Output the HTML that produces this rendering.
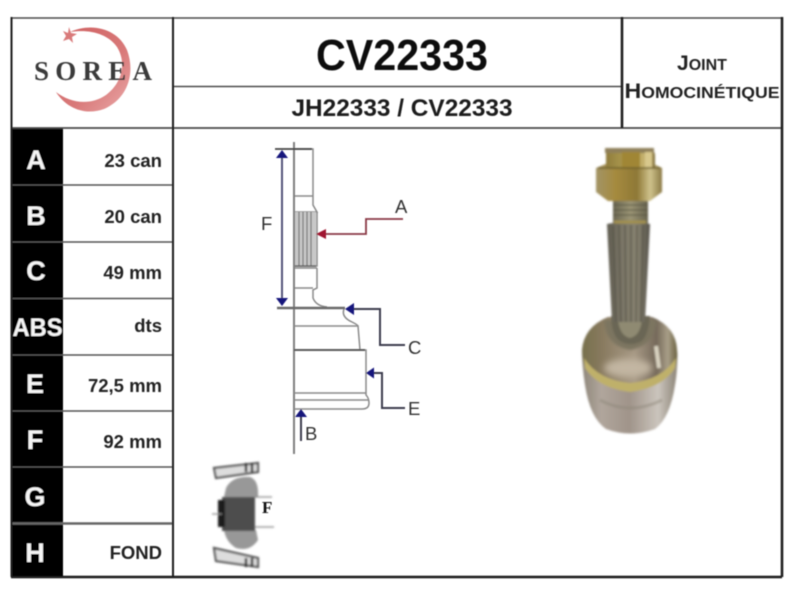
<!DOCTYPE html>
<html><head><meta charset="utf-8"><style>
html,body{margin:0;padding:0;background:#fff;width:800px;height:600px;overflow:hidden}
svg{display:block}
text{font-family:"Liberation Sans",sans-serif}
</style></head><body>
<svg width="800" height="600" viewBox="0 0 800 600" xmlns="http://www.w3.org/2000/svg">
<defs>
<filter id="b" x="-5%" y="-5%" width="110%" height="110%"><feGaussianBlur stdDeviation="0.5"/></filter>
<filter id="b2" x="-10%" y="-10%" width="120%" height="120%"><feGaussianBlur stdDeviation="1.1"/></filter>
<filter id="b3" x="-30%" y="-30%" width="160%" height="160%"><feGaussianBlur stdDeviation="3.5"/></filter>
<linearGradient id="brass" x1="0" x2="1" y1="0" y2="0"><stop offset="0" stop-color="#8f7c3c"/><stop offset=".25" stop-color="#a39048"/><stop offset=".55" stop-color="#b09c50"/><stop offset=".85" stop-color="#cbb878"/><stop offset="1" stop-color="#7d6c38"/></linearGradient>
<linearGradient id="nut" x1="0" x2="1" y1="0" y2="0"><stop offset="0" stop-color="#a39466"/><stop offset=".3" stop-color="#a58a3e"/><stop offset=".62" stop-color="#8e7836"/><stop offset=".82" stop-color="#cfc28c"/><stop offset="1" stop-color="#8b7a46"/></linearGradient>
<linearGradient id="thr" x1="0" x2="1" y1="0" y2="0"><stop offset="0" stop-color="#6a6652"/><stop offset=".5" stop-color="#9a9474"/><stop offset="1" stop-color="#67634f"/></linearGradient>
<linearGradient id="spl" x1="0" x2="1" y1="0" y2="0"><stop offset="0" stop-color="#5f5c50"/><stop offset=".35" stop-color="#7b7667"/><stop offset=".7" stop-color="#878270"/><stop offset="1" stop-color="#55524a"/></linearGradient>
<linearGradient id="bell" x1="0" x2="1" y1="0" y2="0"><stop offset="0" stop-color="#77704c"/><stop offset=".2" stop-color="#87795e"/><stop offset=".55" stop-color="#a89a86"/><stop offset=".78" stop-color="#75695a"/><stop offset=".9" stop-color="#a89e88"/><stop offset="1" stop-color="#6a6240"/></linearGradient>
<linearGradient id="low" x1="0" x2="1" y1="0" y2="0"><stop offset="0" stop-color="#8e867a"/><stop offset=".2" stop-color="#b0a69c"/><stop offset=".5" stop-color="#a0948a"/><stop offset=".8" stop-color="#cbc5bd"/><stop offset="1" stop-color="#8d8578"/></linearGradient>
<linearGradient id="logo" x1="0" x2="1" y1="0" y2="1"><stop offset="0" stop-color="#cf5f60"/><stop offset=".6" stop-color="#d97a7a"/><stop offset="1" stop-color="#eaa9a9"/></linearGradient>
</defs>

<g filter="url(#b)">
<!-- Table -->
<rect x="12" y="128" width="51" height="449" fill="#000"/>
<g stroke="#4a4a4a" fill="none">
<path d="M11 18H782" stroke-width="1.5"/>
<path d="M173 86.500H622" stroke-width="1.500"/>
<path d="M11 128H782" stroke-width="1.800"/>
<path d="M11 185H173M11 242H173M11 298.500H173M11 355H173M11 411H173M11 467H173" stroke-width="1.600" stroke="#555"/>
<path d="M11 523.500H173" stroke-width="2.500" stroke="#666"/>
</g>
<g stroke="#1a1a1a" fill="none">
<path d="M11.500 17V577" stroke-width="2"/>
<path d="M173 17V577" stroke-width="2"/>
<path d="M622 17V128" stroke-width="2.500"/>
<path d="M782 17V577" stroke-width="2.500"/>
<path d="M11 577H782" stroke-width="2.500"/>
</g>

<!-- Row letters -->
<g fill="#f4f4f4" font-weight="700" font-size="27" text-anchor="middle">
<text x="36" y="169">A</text>
<text x="36" y="225">B</text>
<text x="36" y="280">C</text>
<text x="37.500" y="336" font-size="25" textLength="50" lengthAdjust="spacingAndGlyphs">ABS</text>
<text x="35" y="393">E</text>
<text x="35" y="449">F</text>
<text x="35" y="506">G</text>
<text x="35" y="562">H</text>
</g>
<!-- Row values -->
<g fill="#222" font-weight="700" font-size="18.500" text-anchor="end">
<text x="162" y="167">23 can</text>
<text x="162" y="223">20 can</text>
<text x="162" y="279">49 mm</text>
<text x="162" y="332">dts</text>
<text x="162" y="392">72,5 mm</text>
<text x="162" y="448">92 mm</text>
<text x="162" y="559">FOND</text>
</g>

<!-- Titles -->
<text x="402" y="70" text-anchor="middle" font-size="44" font-weight="700" fill="#0c0c0c" textLength="172" lengthAdjust="spacingAndGlyphs">CV22333</text>
<text x="402" y="116" text-anchor="middle" font-size="24" font-weight="700" fill="#1c1c1c" textLength="221" lengthAdjust="spacingAndGlyphs">JH22333 / CV22333</text>
<text x="702" y="70" text-anchor="middle" font-weight="700" fill="#222"><tspan font-size="21">J</tspan><tspan font-size="16">OINT</tspan></text>
<text x="702" y="98" text-anchor="middle" font-weight="700" fill="#222" textLength="155" lengthAdjust="spacingAndGlyphs"><tspan font-size="21">H</tspan><tspan font-size="16">OMOCINÉTIQUE</tspan></text>

<!-- Logo -->
<path d="M70 32C92 22 118 29 127 50C136 74 127 99 104 109C85 116 66 108 56 92C70 103 90 106 106 95C122 83 127 63 117 47C108 34 90 29 70 32Z" fill="url(#logo)"/>
<path d="M69 27l2 6 6 1-5 3 1 6-4-4-6 2 3-5-3-5 5 2z" fill="#d97a7a"/>
<text x="34" y="80" font-size="27" font-weight="700" fill="#3a3a3a" style="font-family:'Liberation Serif',serif" textLength="118" lengthAdjust="spacing">SOREA</text>

<!-- Technical drawing -->
<g fill="none" stroke="#8a8a8a" stroke-width="1.500">
<path d="M294 142V454" stroke="#808080" stroke-width="2"/>
<path d="M294 149H313V196H295M313 196L313 205L317 212H295M317 212V266H295M317 268V288L313 290V298Q316 306 327 307" />
<path d="M295 268H317"/>
<path d="M295 288H313"/>
<path d="M294 326H358L360 350"/>
<path d="M344 309Q341 317 352 322Q358 325 358 326"/>
<path d="M360 350H366V395Q369 398 369 403Q369 409 362 409H294"/>
<path d="M294 393H366M294 400H369" />
</g>
<path d="M294 350H365" stroke="#5c5c5c" stroke-width="2"/>
<path d="M277 308H345" stroke="#6a6a6a" stroke-width="2.400"/>
<path d="M275 149H312" stroke="#444" stroke-width="1.800"/>
<rect x="295" y="212" width="21" height="54" fill="#c8c8c8"/>
<g stroke="#777" stroke-width="1.200"><path d="M299 212V266M303 212V266M307 212V266M311 212V266"/></g>
<path d="M295 266H316" stroke="#666" stroke-width="1.500"/>

<!-- F dimension -->
<path d="M282 152V305" stroke="#55557a" stroke-width="2"/>
<path d="M282 150l6 8h-12z M282 306l-6-8h12z" fill="#14147c"/>
<text x="261" y="230" font-size="18.500" fill="#333">F</text>

<!-- A leader -->
<path d="M403 219H366V234H322" fill="none" stroke="#8a3a46" stroke-width="1.800"/>
<path d="M316 234l10-5v10z" fill="#a01830"/>
<text x="395" y="213" font-size="18.500" fill="#333">A</text>

<!-- C leader -->
<path d="M352 309H380V345H405" fill="none" stroke="#3c3c50" stroke-width="2"/>
<path d="M345 309l9-6v12z" fill="#14147c"/>
<text x="408" y="354" font-size="18.500" fill="#333">C</text>

<!-- E leader -->
<path d="M372 373H382V408H405" fill="none" stroke="#3c3c50" stroke-width="2"/>
<path d="M366 373l8-5.500v11z" fill="#14147c"/>
<text x="408" y="415" font-size="18.500" fill="#333">E</text>

<!-- B leader -->
<path d="M301 415V441" fill="none" stroke="#3c3c50" stroke-width="2"/>
<path d="M301 409l6 8h-12z" fill="#14147c"/>
<text x="305" y="440" font-size="18.500" fill="#333">B</text>
</g>

<!-- small section drawing -->
<g filter="url(#b2)">
<path d="M214 468L258 463V472L216 478Z M214 548L258 558V567L216 561Z" fill="#ddd" stroke="#555" stroke-width="2.200"/>
<path d="M246 463v9M252 463v9M246 558v9M252 558v9" stroke="#333" stroke-width="2.500"/>
<path d="M226 488Q232 476 250 477Q259 480 258 497H224Z M224 530H256L258 540Q250 552 236 548Q226 542 224 530Z" fill="#989898"/>
<rect x="222" y="497" width="33" height="34" fill="#4e4e4e"/>
<rect x="218" y="500" width="7" height="27" fill="#1c1c1c"/>
<path d="M212 514H222M255 527H274M255 497H272" stroke="#888" stroke-width="1.300"/>
</g>
<text x="262" y="513" font-size="17" font-weight="700" fill="#111" filter="url(#b)" style="font-family:'Liberation Serif',serif">F</text>

<!-- Product photo -->
<g filter="url(#b2)">
<!-- full cup silhouette -->
<path d="M582 350Q584 327 608 317H652Q676 327 677 350Q678 368 675 385Q670 418 655 429Q630 438 606 429Q590 418 585 385Q582 366 582 350Z" fill="url(#low)"/>
<!-- bell -->
<path d="M582 350Q584 327 608 317H652Q676 327 677 350Q678 358 676 364Q664 382 630 385Q598 382 584 364Q582 358 582 350Z" fill="url(#bell)"/>
<!-- ring -->
<path d="M584 358Q598 380 630 383Q662 380 676 358L675 368Q662 388 630 392Q598 388 585 368Z" fill="#bfb06a"/>
<ellipse cx="628" cy="368" rx="24" ry="9" fill="#c2b6a2" filter="url(#b3)"/>
<path d="M600 400Q630 416 662 400" stroke="#8c8478" stroke-width="3" fill="none" opacity=".45"/>
<!-- collar -->
<path d="M604 320Q606 346 630 350Q654 346 657 320Z" fill="#7b7560" filter="url(#b2)"/>
<!-- neck -->
<path d="M611 316Q612 338 622 342Q630 346 640 342Q648 338 650 316Z" fill="#6a6654"/>
<path d="M618 320Q620 336 630 338Q640 336 642 320Z" fill="#8f8a72"/>
<path d="M656 346L659 368" stroke="#d8d2c0" stroke-width="4"/>
<!-- spline shaft -->
<path d="M607 224Q628 220 650 224L645 322H612Z" fill="url(#spl)"/>
<g stroke="#4e4c40" stroke-width="1.300" opacity=".7">
<path d="M613 226L616 322M619 225L621 322M625 225L626 322M631 225L631 322M637 225L636 322M643 225L641 322"/>
</g>
<!-- thread -->
<rect x="613" y="199" width="35" height="25" fill="url(#thr)"/>
<path d="M613 205H648M613 210H648M613 215H648" stroke="#565240" stroke-width="1"/>
<path d="M614 222H646" stroke="#a08f50" stroke-width="3"/>
<!-- nut -->
<path d="M596 168L608 163H652L662 168V192L650 201H608L596 192Z" fill="url(#nut)"/>
<path d="M606 150L650 148Q655 150 655 156V168H606Z" fill="url(#brass)"/>
<path d="M605 148H654V153H605Z" fill="#8f805a"/>
<path d="M622 152H640V168H622Z" fill="#a08636"/>
<path d="M645 152H652V168H645Z" fill="#d8c88c"/>
<path d="M598 168H660" stroke="#6c5e2a" stroke-width="1.500"/>
</g>
</svg>
</body></html>
